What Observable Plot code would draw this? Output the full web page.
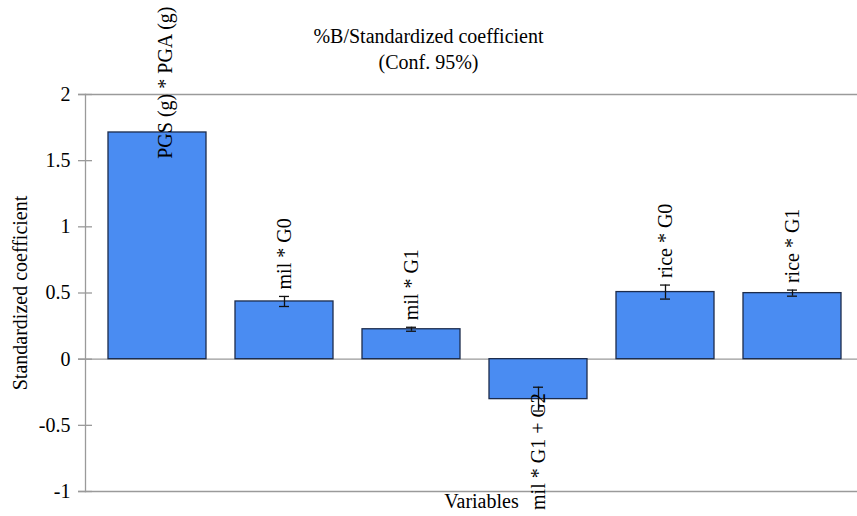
<!DOCTYPE html>
<html>
<head>
<meta charset="utf-8">
<script src="https://cdn.jsdelivr.net/npm/d3@7"></script>
<script src="https://cdn.jsdelivr.net/npm/@observablehq/plot@0.6"></script>
<style>
  body { margin: 0; background: #fff; }
  #wrap { position: relative; width: 857px; height: 516px; }
  #title { position: absolute; left: 0; top: 23px; width: 857px; text-align: center; font-size: 20px; line-height: 26px; color: #000; pointer-events: none; }
</style>
</head>
<body>
<div id="wrap">
  <div id="chart"></div>
  <div id="title" style="font-family:'Liberation Serif'">%B/Standardized coefficient<br>(Conf. 95%)</div>
</div>
<script>
const variables = ["PGS (g) * PGA (g)", "mil * G0", "mil * G1", "mil * G1 + G2", "rice * G0", "rice * G1"];
const coefficients = [1.713, 0.436, 0.226, -0.302, 0.507, 0.499];
const errors = [0, 0.038, 0.015, 0.09, 0.053, 0.023];
const yTicks = [-1, -0.5, 0, 0.5, 1, 1.5, 2];
const yLabel = "Standardized coefficient";
const xLabel = "Variables";

const data = variables.map((v, i) => ({name: v, value: coefficients[i], err: errors[i]}));
const pos = data.filter((d, i) => i > 0 && d.value >= 0);
const neg = data.filter(d => d.value < 0);
const first = data.slice(0, 1);

const serif = "Liberation Serif";
const fs = 20;
const gray = "#9a9a9a";
const chart = Plot.plot({
  width: 857,
  height: 516,
  marginLeft: 85,
  marginRight: 0,
  marginTop: 94,
  marginBottom: 25,
  style: {fontSize: fs + "px", fontFamily: serif, color: "#000", background: "#fff", overflow: "visible"},
  x: {domain: variables, range: [85, 864], paddingInner: 0.23, paddingOuter: 0.18, axis: null},
  y: {domain: [-1, 2], ticks: yTicks},
  marks: [
    Plot.ruleY([2, 0, -1], {stroke: gray, strokeWidth: 1.3, insetLeft: -7}),
    Plot.ruleY(yTicks, {stroke: gray, strokeWidth: 1.3, insetLeft: -7, insetRight: 857 - 85 - 7}),
    Plot.frame({anchor: "left", stroke: gray, strokeWidth: 1.3}),
    Plot.axisY({ticks: yTicks, tickSize: 0, tickPadding: 15, fontSize: fs, fontFamily: serif, label: null, tickFormat: d => String(d)}),
    Plot.text([yLabel], {frameAnchor: "left", textAnchor: "middle", rotate: -90, dx: -65, fontSize: fs, fontFamily: serif}),
    Plot.text([xLabel], {frameAnchor: "bottom", dy: 16, dx: 10, fontSize: fs, fontFamily: serif}),
    Plot.barY(data, {x: "name", y: "value", fill: "#4a8cf2", stroke: "#1c2c4c", strokeWidth: 1.3}),
    Plot.ruleX(data.filter(d => d.err > 0), {x: "name", y1: d => d.value - d.err, y2: d => d.value + d.err, stroke: "#111", strokeWidth: 1.3}),
    Plot.tickY(data.filter(d => d.err > 0), {x: "name", y: d => d.value - d.err, stroke: "#111", strokeWidth: 1.3, insetLeft: 44, insetRight: 44}),
    Plot.tickY(data.filter(d => d.err > 0), {x: "name", y: d => d.value + d.err, stroke: "#111", strokeWidth: 1.3, insetLeft: 44, insetRight: 44}),
    Plot.text(pos, {x: "name", y: d => d.value + d.err, text: "name", rotate: -90, textAnchor: "start", dy: -7, fontSize: fs, fontFamily: serif}),
    Plot.text(neg, {x: "name", y: "value", text: "name", rotate: -90, textAnchor: "end", dy: -6, fontSize: fs, fontFamily: serif}),
    Plot.text(first, {x: "name", frameAnchor: "top", text: "name", rotate: -90, textAnchor: "end", dy: -88, fontSize: fs, fontFamily: serif})
  ]
});
document.getElementById("chart").appendChild(chart);
</script>
</body>
</html>
